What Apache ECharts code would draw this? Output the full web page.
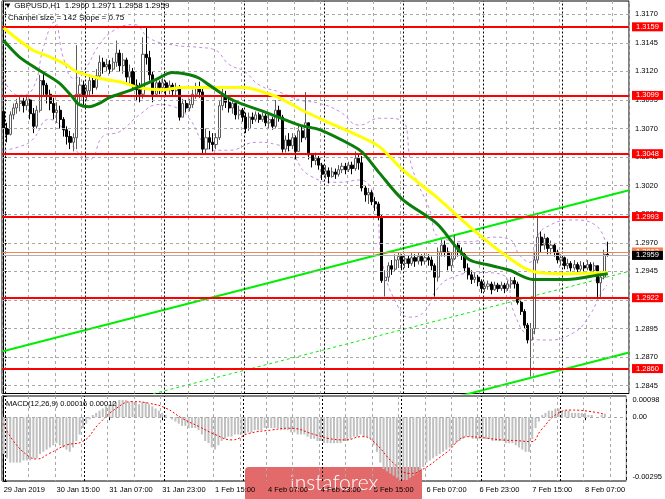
<!DOCTYPE html>
<html><head><meta charset="utf-8">
<script src="https://cdn.jsdelivr.net/npm/echarts@6/dist/echarts.min.js"></script>
<style>html,body{margin:0;padding:0;background:#fff}#c{width:665px;height:499px}</style>
</head><body><div id="c"></div>
<script>
const symbolTitle = 'GBPUSD,H1';
const channelText = 'Channel size = 142 Slope = 0.75';
const macdName = 'MACD(12,26,9)';
const days = [['29 Jan',23,23],['30 Jan',0,23],['31 Jan',0,23],['1 Feb',0,23],['4 Feb',0,23],['5 Feb',0,23],['6 Feb',0,23],['7 Feb',0,23],['8 Feb',0,13]];
const rightPadBars = 6;
const xTickLabels = ['29 Jan 2019','30 Jan 15:00','31 Jan 07:00','31 Jan 23:00','1 Feb 15:00','4 Feb 07:00','4 Feb 23:00','5 Feb 15:00','6 Feb 07:00','6 Feb 23:00','7 Feb 15:00','8 Feb 07:00'];
const priceTicks = [1.2845,1.2870,1.2895,1.2920,1.2945,1.2970,1.2995,1.3020,1.3045,1.3070,1.3095,1.3120,1.3145,1.3170];
const macdTicks = [-0.00295,0,0.00098];
const levels = [1.3159,1.3099,1.3048,1.2993,1.2922,1.2860];
const bidPrice = 1.2959;
const askPrice = 1.2962;

const firstOpen = 1.3085;
const closes = [
1.3070,1.3065,1.3082,1.3088,1.3092,1.3094,1.3090,1.3095,1.3083,1.3072,
1.3086,1.3112,1.3108,1.3100,1.3092,1.3084,1.3086,1.3078,1.3069,1.3063,
1.3058,1.3062,1.3100,1.3108,1.3098,1.3103,1.3112,1.3106,1.3116,1.3128,
1.3124,1.3126,1.3122,1.3128,1.3136,1.3125,1.3130,1.3115,1.3120,1.3108,
1.3104,1.3100,1.3135,1.3132,1.3117,1.3100,1.3110,1.3106,1.3110,1.3104,
1.3108,1.3103,1.3106,1.3080,1.3092,1.3088,1.3091,1.3100,1.3106,1.3102,
1.3052,1.3062,1.3058,1.3056,1.3062,1.3090,1.3098,1.3093,1.3088,1.3092,
1.3082,1.3086,1.3080,1.3070,1.3080,1.3078,1.3082,1.3078,1.3081,1.3075,
1.3078,1.3072,1.3086,1.3080,1.3052,1.3060,1.3055,1.3062,1.3050,1.3068,
1.3062,1.3075,1.3047,1.3042,1.3044,1.3038,1.3030,1.3033,1.3028,1.3032,
1.3030,1.3034,1.3037,1.3034,1.3038,1.3035,1.3044,1.3040,1.3018,1.3012,
1.3014,1.3006,1.3004,1.2993,1.2937,1.2940,1.2950,1.2947,1.2955,1.2958,
1.2952,1.2956,1.2952,1.2957,1.2954,1.2958,1.2954,1.2957,1.2955,1.2950,
1.2940,1.2962,1.2968,1.2962,1.2950,1.2956,1.2968,1.2962,1.2960,1.2948,
1.2942,1.2938,1.2940,1.2936,1.2930,1.2932,1.2934,1.2929,1.2933,1.2930,
1.2933,1.2930,1.2934,1.2937,1.2934,1.2918,1.2910,1.2898,1.2885,1.2895,
1.2955,1.2975,1.2968,1.2974,1.2965,1.2968,1.2962,1.2955,1.2957,1.2950,
1.2952,1.2948,1.2951,1.2947,1.2950,1.2948,1.2951,1.2946,1.2950,1.2935,
1.2940,1.2960,1.2959];
const highs = [
1.3090,1.3075,1.3085,1.3092,1.3096,1.3098,1.3097,1.3098,1.3096,1.3088,
1.3090,1.3117,1.3118,1.3110,1.3104,1.3097,1.3093,1.3090,1.3080,1.3072,
1.3068,1.3066,1.3143,1.3115,1.3112,1.3108,1.3117,1.3115,1.3122,1.3134,
1.3132,1.3131,1.3130,1.3132,1.3147,1.3139,1.3136,1.3132,1.3126,1.3123,
1.3113,1.3110,1.3150,1.3158,1.3138,1.3120,1.3114,1.3112,1.3114,1.3112,
1.3112,1.3110,1.3110,1.3108,1.3096,1.3095,1.3096,1.3104,1.3110,1.3111,
1.3107,1.3070,1.3068,1.3066,1.3066,1.3094,1.3106,1.3103,1.3096,1.3096,
1.3092,1.3090,1.3088,1.3084,1.3084,1.3084,1.3085,1.3084,1.3084,1.3083,
1.3082,1.3080,1.3095,1.3090,1.3082,1.3064,1.3066,1.3066,1.3064,1.3074,
1.3072,1.3102,1.3072,1.3048,1.3049,1.3046,1.3040,1.3038,1.3036,1.3036,
1.3035,1.3038,1.3040,1.3040,1.3041,1.3041,1.3050,1.3048,1.3046,1.3020,
1.3018,1.3016,1.3010,1.3006,1.2995,1.2946,1.2953,1.2955,1.2960,1.2962,
1.2960,1.2960,1.2959,1.2961,1.2960,1.2962,1.2960,1.2961,1.2960,1.2958,
1.2952,1.2966,1.2973,1.2972,1.2966,1.2962,1.2977,1.2970,1.2966,1.2962,
1.2952,1.2946,1.2944,1.2942,1.2938,1.2936,1.2937,1.2936,1.2936,1.2935,
1.2936,1.2935,1.2937,1.2940,1.2940,1.2936,1.2920,1.2912,1.2900,1.2900,
1.2962,1.2996,1.2980,1.2978,1.2975,1.2972,1.2970,1.2964,1.2960,1.2958,
1.2956,1.2954,1.2955,1.2953,1.2954,1.2953,1.2955,1.2953,1.2953,1.2950,
1.2945,1.2964,1.2971];
const lows = [
1.3062,1.3058,1.3064,1.3078,1.3083,1.3085,1.3084,1.3086,1.3078,1.3066,
1.3070,1.3084,1.3098,1.3092,1.3086,1.3078,1.3075,1.3070,1.3063,1.3056,
1.3052,1.3050,1.3052,1.3092,1.3090,1.3094,1.3098,1.3100,1.3104,1.3114,
1.3118,1.3120,1.3118,1.3120,1.3124,1.3120,1.3118,1.3110,1.3108,1.3103,
1.3094,1.3093,1.3096,1.3126,1.3112,1.3093,1.3098,1.3100,1.3102,1.3098,
1.3100,1.3098,1.3099,1.3077,1.3080,1.3084,1.3085,1.3088,1.3096,1.3097,
1.3048,1.3048,1.3052,1.3050,1.3052,1.3060,1.3086,1.3088,1.3084,1.3083,
1.3078,1.3078,1.3076,1.3066,1.3068,1.3074,1.3076,1.3075,1.3076,1.3072,
1.3070,1.3069,1.3070,1.3076,1.3049,1.3049,1.3050,1.3052,1.3043,1.3050,
1.3058,1.3060,1.3043,1.3036,1.3038,1.3034,1.3025,1.3026,1.3022,1.3027,
1.3026,1.3028,1.3031,1.3030,1.3032,1.3030,1.3033,1.3034,1.3015,1.3006,
1.3004,1.3003,1.2998,1.2990,1.2935,1.2923,1.2936,1.2942,1.2945,1.2948,
1.2946,1.2948,1.2948,1.2950,1.2949,1.2951,1.2950,1.2951,1.2950,1.2946,
1.2923,1.2936,1.2958,1.2958,1.2946,1.2945,1.2955,1.2958,1.2955,1.2944,
1.2938,1.2934,1.2935,1.2932,1.2926,1.2927,1.2929,1.2925,1.2928,1.2927,
1.2928,1.2926,1.2928,1.2930,1.2930,1.2916,1.2907,1.2895,1.2882,1.2853,
1.2890,1.2952,1.2962,1.2964,1.2960,1.2960,1.2958,1.2952,1.2950,1.2947,
1.2947,1.2945,1.2946,1.2944,1.2945,1.2945,1.2946,1.2943,1.2944,1.2922,
1.2922,1.2938,1.2958];
const macdHist = [
-0.0017,-0.0019,-0.0021,-0.0021,-0.0021,-0.0021,-0.0020,-0.0020,-0.0020,-0.0019,
-0.0019,-0.0017,-0.0016,-0.0015,-0.0014,-0.0013,-0.0012,-0.0013,-0.0014,-0.0015,
-0.0016,-0.0014,-0.0011,-0.0008,-0.0005,-0.0003,-0.0001,0.0001,0.0002,0.0003,
0.0004,0.0005,0.0006,0.0007,0.0007,0.0008,0.0008,0.0008,0.0007,0.0007,
0.0007,0.0006,0.0007,0.0007,0.0006,0.0005,0.0004,0.0003,0.0002,0.0001,
0.0000,-0.0001,-0.0002,-0.0003,-0.0004,-0.0004,-0.0005,-0.0005,-0.0005,-0.0006,
-0.0008,-0.0011,-0.0012,-0.0014,-0.0015,-0.0013,-0.0011,-0.0010,-0.0009,-0.0009,
-0.0008,-0.0008,-0.0008,-0.0008,-0.0007,-0.0007,-0.0006,-0.0006,-0.0006,-0.0005,
-0.0005,-0.0005,-0.0005,-0.0005,-0.0006,-0.0006,-0.0006,-0.0007,-0.0007,-0.0008,
-0.0008,-0.0008,-0.0009,-0.0010,-0.0010,-0.0011,-0.0011,-0.0012,-0.0012,-0.0012,
-0.0012,-0.0012,-0.0012,-0.0011,-0.0011,-0.0010,-0.0009,-0.0009,-0.0008,-0.0009,
-0.0009,-0.0010,-0.0013,-0.0016,-0.0021,-0.0024,-0.0025,-0.0026,-0.0027,-0.0028,
-0.0029,-0.0029,-0.0029,-0.0028,-0.0027,-0.0026,-0.0025,-0.0023,-0.0021,-0.0020,
-0.0019,-0.0018,-0.0017,-0.0016,-0.0015,-0.0014,-0.0013,-0.0012,-0.0011,-0.0010,
-0.0009,-0.0009,-0.0010,-0.0010,-0.0010,-0.0010,-0.0010,-0.0010,-0.0011,-0.0011,
-0.0011,-0.0011,-0.0012,-0.0012,-0.0012,-0.0013,-0.0014,-0.0015,-0.0016,-0.0016,
-0.0010,-0.0005,-0.0002,0.0001,0.0002,0.0003,0.0003,0.0004,0.0004,0.0003,
0.0003,0.0003,0.0002,0.0002,0.0002,0.0002,0.0002,0.0001,0.0001,0.0000,
0.0000,0.0001,0.00016];
const macdSignal = [[0,-0.0003],[2.7,-0.00105],[7.8,-0.00183],[10,-0.00193],[13.9,-0.00167],[19,-0.00129],[23.8,-0.00113],[29,-0.00028],[34.1,0.00041],[38.9,0.00072],[44.1,0.00064],[49.2,0.00041],[54,-0.00005],[59.2,-0.00044],[64.3,-0.00082],[69.1,-0.00105],[74.3,-0.00075],[81.2,-0.00059],[86.3,-0.00051],[94.5,-0.00082],[98.2,-0.00098],[103.5,-0.00105],[108.4,-0.0009],[111.4,-0.00105],[118.6,-0.00221],[123,-0.0026],[126.5,-0.00244],[133.7,-0.00167],[140.7,-0.0009],[144.6,-0.00094],[150.6,-0.00105],[155,-0.00108],[159.7,-0.00113],[162.7,-0.00059],[167.8,0.00018],[171.8,0.00033],[179,0.00023],[182,0.00012]];
const maSlow = [[0,1.3158],[8.6,1.3139],[13.7,1.3133],[18.8,1.3126],[21.8,1.3120],[28.8,1.3114],[36.3,1.3110],[40.3,1.3106],[48.4,1.3104],[53.5,1.3106],[59.6,1.3106],[68,1.3106],[72,1.3106],[82.2,1.3098],[90,1.3086],[98.2,1.3075],[105.2,1.3066],[113.3,1.3054],[120.2,1.3034],[130.5,1.3010],[140.5,1.2984],[150.4,1.2961],[159.5,1.2945],[170.7,1.2943],[182.1,1.2944]];
const maFast = [[0,1.3147],[4.6,1.3133],[10.7,1.3121],[16.7,1.3110],[20.6,1.3098],[22.7,1.3091],[25.8,1.3089],[28.8,1.3092],[31.8,1.3097],[38.7,1.3104],[46,1.3113],[50.8,1.3119],[56,1.3117],[59,1.3114],[62,1.3108],[69,1.3095],[79.2,1.3084],[89.2,1.3073],[95.2,1.3069],[105.2,1.3055],[108.2,1.3049],[113.3,1.3031],[120.2,1.3008],[130.5,1.2987],[136.5,1.2966],[140.5,1.2955],[145.6,1.2951],[152.5,1.2946],[159.5,1.2938],[169.8,1.2938],[179.8,1.2942],[182.1,1.2943]];
const bandUpper = [[0,1.3113],[4.6,1.3099],[8.6,1.3104],[12.2,1.3143],[15.2,1.3163],[18.2,1.3130],[21.2,1.3114],[24.3,1.3121],[28.8,1.3143],[33.3,1.3156],[39.3,1.3161],[43.9,1.3149],[51.4,1.3143],[59,1.3141],[63.5,1.3139],[68,1.3126],[72.6,1.3120],[77.1,1.3108],[83.1,1.3102],[89.2,1.3095],[95.2,1.3092],[101.2,1.3085],[107.3,1.3073],[113.3,1.3079],[119.4,1.3078],[123.3,1.3034],[128.4,1.2999],[131.4,1.2975],[140.5,1.2971],[148,1.2975],[152.5,1.2973],[155.6,1.2959],[158.6,1.2953],[160.7,1.2973],[163.1,1.2983],[171.6,1.2990],[178.2,1.2986],[181.8,1.2966]];
const bandLower = [[0,1.3051],[4.6,1.3054],[8.6,1.3060],[13.7,1.3078],[17.6,1.3071],[21.8,1.3051],[25.8,1.3043],[30.3,1.3064],[34.8,1.3067],[40.9,1.3082],[46.9,1.3091],[51.4,1.3089],[55.9,1.3079],[60.5,1.3056],[63.5,1.3051],[68,1.3051],[76.2,1.3058],[82.2,1.3056],[86.1,1.3051],[92.2,1.3029],[101.2,1.3023],[107.3,1.3025],[111.8,1.3008],[114.2,1.2952],[118.4,1.2917],[122.4,1.2905],[126.9,1.2910],[130.5,1.2929],[135.4,1.2940],[143.5,1.2944],[150.4,1.2942],[154.1,1.2907],[158.6,1.2888],[163.1,1.2885],[171.6,1.2891],[176.7,1.2907],[179.7,1.2924],[181.8,1.2933]];
const channelUpper = [[-0.5,1.2875],[188.5,1.3016]];
const channelMid = [[-0.5,1.2804],[188.5,1.2945]];
const channelLower = [[-0.5,1.2733],[188.5,1.2874]];

// ---- build ----
const cats = [];
const daySeps = [];
days.forEach(([d, h0, h1], k) => {
  if (k > 0) daySeps.push(cats.length - 0.5);
  for (let h = h0; h <= h1; h++) cats.push(d + ' ' + String(h).padStart(2, '0') + ':00');
});
for (let k = 0; k < rightPadBars; k++) cats.push('');
const N = cats.length;
const opens = [firstOpen].concat(closes.slice(0, -1));
const candles = closes.map((c, i) => [opens[i], c, lows[i], highs[i]]);
const last = closes.length - 1;
const headerText = '\u25BC ' + symbolTitle + '  ' + [opens[last], highs[last], lows[last], closes[last]].map(v => v.toFixed(4)).join(' ');
const macdText = macdName + ' ' + macdHist[last].toFixed(5) + ' ' + macdSignal[macdSignal.length - 1][1].toFixed(5);

const FONT = 'Liberation Sans';
const gridLine = () => ({ color: '#a8a8a8', type: [3, 3], width: 1 });
const sepLine = () => ({ color: '#000', type: [2, 2], width: 1 });
const chart = echarts.init(document.getElementById('c'), null, { renderer: 'canvas' });

function markOnly(xi, yi, z, markLine) {
  return { type: 'line', xAxisIndex: xi, yAxisIndex: yi, data: [], silent: true, z: z, markLine: Object.assign({ silent: true, symbol: 'none', precision: 6, animation: false, emphasis: { disabled: true } }, markLine) };
}
function valueLine(data, style, z, smooth) {
  return { type: 'line', xAxisIndex: 1, yAxisIndex: 0, data: data, symbol: 'none', smooth: smooth || false, silent: true, z: z, lineStyle: style };
}
const priceLabel = (bg) => ({ show: true, position: 'end', distance: 3, formatter: p => Number(p.value).toFixed(4), backgroundColor: bg, color: '#fff', fontSize: 7.5, fontFamily: FONT, padding: [1, 4, 0, 4], lineHeight: 8 });

chart.setOption({
  animation: false,
  backgroundColor: '#fff',
  textStyle: { fontFamily: FONT },
  grid: [
    { left: 2, right: 36, top: 1, height: 392.5, show: true, borderColor: '#000', borderWidth: 1 },
    { left: 2, right: 36, top: 396, height: 85, show: true, borderColor: '#000', borderWidth: 1 }
  ],
  xAxis: [
    { type: 'category', gridIndex: 0, data: cats, boundaryGap: true, axisLine: { show: false }, axisTick: { show: false }, axisLabel: { show: false } },
    { type: 'value', gridIndex: 0, min: -0.5, max: N - 0.5, interval: 8, axisLine: { show: false }, axisTick: { show: false }, axisLabel: { show: false }, splitLine: { show: true, lineStyle: gridLine() } },
    { type: 'category', gridIndex: 1, data: cats, boundaryGap: true, axisLine: { show: false },
      axisTick: { show: true, interval: 15, alignWithLabel: true, length: 3, lineStyle: { color: '#000' } },
      axisLabel: { interval: 15, align: 'left', fontSize: 7.5, color: '#000', fontFamily: FONT, margin: 5, formatter: (v, i) => xTickLabels[i / 16] || '' } },
    { type: 'value', gridIndex: 1, min: -0.5, max: N - 0.5, interval: 8, axisLine: { show: false }, axisTick: { show: false }, axisLabel: { show: false }, splitLine: { show: true, lineStyle: gridLine() } }
  ],
  yAxis: [
    { type: 'value', gridIndex: 0, position: 'right', min: 1.28382, max: 1.31816,
      axisLine: { show: true, lineStyle: { color: '#000' } },
      axisTick: { show: true, customValues: priceTicks, length: 3, lineStyle: { color: '#000' } },
      axisLabel: { customValues: priceTicks, formatter: v => v.toFixed(4), fontSize: 7.5, color: '#000', fontFamily: FONT, margin: 6 },
      splitLine: { show: false } },
    { type: 'value', gridIndex: 1, position: 'right', min: -0.00295, max: 0.00098,
      axisLine: { show: true, lineStyle: { color: '#000' } },
      axisTick: { show: true, customValues: macdTicks, length: 3, lineStyle: { color: '#000' } },
      axisLabel: { customValues: macdTicks, formatter: v => v === 0 ? '0.00' : v.toFixed(5), fontSize: 7.5, color: '#000', fontFamily: FONT, margin: 6, verticalAlignMinLabel: 'bottom', verticalAlignMaxLabel: 'top' },
      splitLine: { show: false } }
  ],
  series: [
    markOnly(1, 0, 1, { label: { show: false }, lineStyle: gridLine(), data: priceTicks.map(v => ({ yAxis: v })) }),
    markOnly(1, 0, 1, { label: { show: false }, lineStyle: sepLine(), data: daySeps.map(v => ({ xAxis: v })) }),
    markOnly(3, 1, 1, { label: { show: false }, lineStyle: sepLine(), data: daySeps.map(v => ({ xAxis: v })).concat([{ yAxis: 0, lineStyle: gridLine() }]) }),
    valueLine(bandUpper, { color: '#c58be3', width: 1, type: [3, 3] }, 2, 0.5),
    valueLine(bandLower, { color: '#c58be3', width: 1, type: [3, 3] }, 2, 0.5),
    valueLine(channelUpper, { color: '#00ee00', width: 2 }, 3),
    valueLine(channelMid, { color: '#00ee00', width: 1, type: [3, 3] }, 3),
    valueLine(channelLower, { color: '#00ee00', width: 2 }, 3),
    { type: 'candlestick', xAxisIndex: 0, yAxisIndex: 0, data: candles, barWidth: 2.6, silent: true, z: 4,
      itemStyle: { color: '#ffffff', color0: '#000000', borderColor: '#5a5a5a', borderColor0: '#000000', borderWidth: 1 } },
    valueLine(maSlow, { color: '#ffff00', width: 3 }, 5, 0.3),
    valueLine(maFast, { color: '#0a7d0a', width: 3 }, 5, 0.3),
    markOnly(1, 0, 6, { lineStyle: { color: '#ff0000', width: 2, type: 'solid' }, label: priceLabel('#ff0000'), data: levels.map(v => ({ yAxis: v })) }),
    markOnly(1, 0, 7, { lineStyle: { color: '#f4834f', width: 1, type: 'solid' }, label: priceLabel('#f4834f'), data: [{ yAxis: askPrice }] }),
    markOnly(1, 0, 8, { lineStyle: { color: '#b0b0b0', width: 1, type: 'solid' }, label: priceLabel('#000000'), data: [{ yAxis: bidPrice }] }),
    { type: 'bar', xAxisIndex: 2, yAxisIndex: 1, data: macdHist, barWidth: 2, silent: true, z: 3, itemStyle: { color: '#c0c0c0' } },
    { type: 'line', xAxisIndex: 3, yAxisIndex: 1, data: macdSignal, symbol: 'none', smooth: 0.5, silent: true, z: 4, lineStyle: { color: '#ff0000', width: 1, type: [2, 2] } }
  ],
  graphic: [
    { type: 'text', left: 4, top: 2, z: 100, style: { text: headerText, font: '8px "Liberation Sans"', fill: '#000' } },
    { type: 'text', left: 8, top: 14, z: 100, style: { text: channelText, font: '8px "Liberation Sans"', fill: '#000' } },
    { type: 'text', left: 6, top: 400, z: 100, style: { text: macdText, font: '7.5px "Liberation Sans"', fill: '#000' } },
    { type: 'group', left: 245, top: 467, z: 100, children: [
      { type: 'rect', shape: { x: 0, y: 0, width: 177, height: 40, r: [4, 4, 0, 0] }, style: { fill: '#e26a6a' } },
      { type: 'text', x: 45, y: 16, style: { text: 'instaforex', font: '300 21px Lato', fill: '#ffffff', verticalAlign: 'middle' } }
    ] }
  ]
});
</script>
</body></html>
